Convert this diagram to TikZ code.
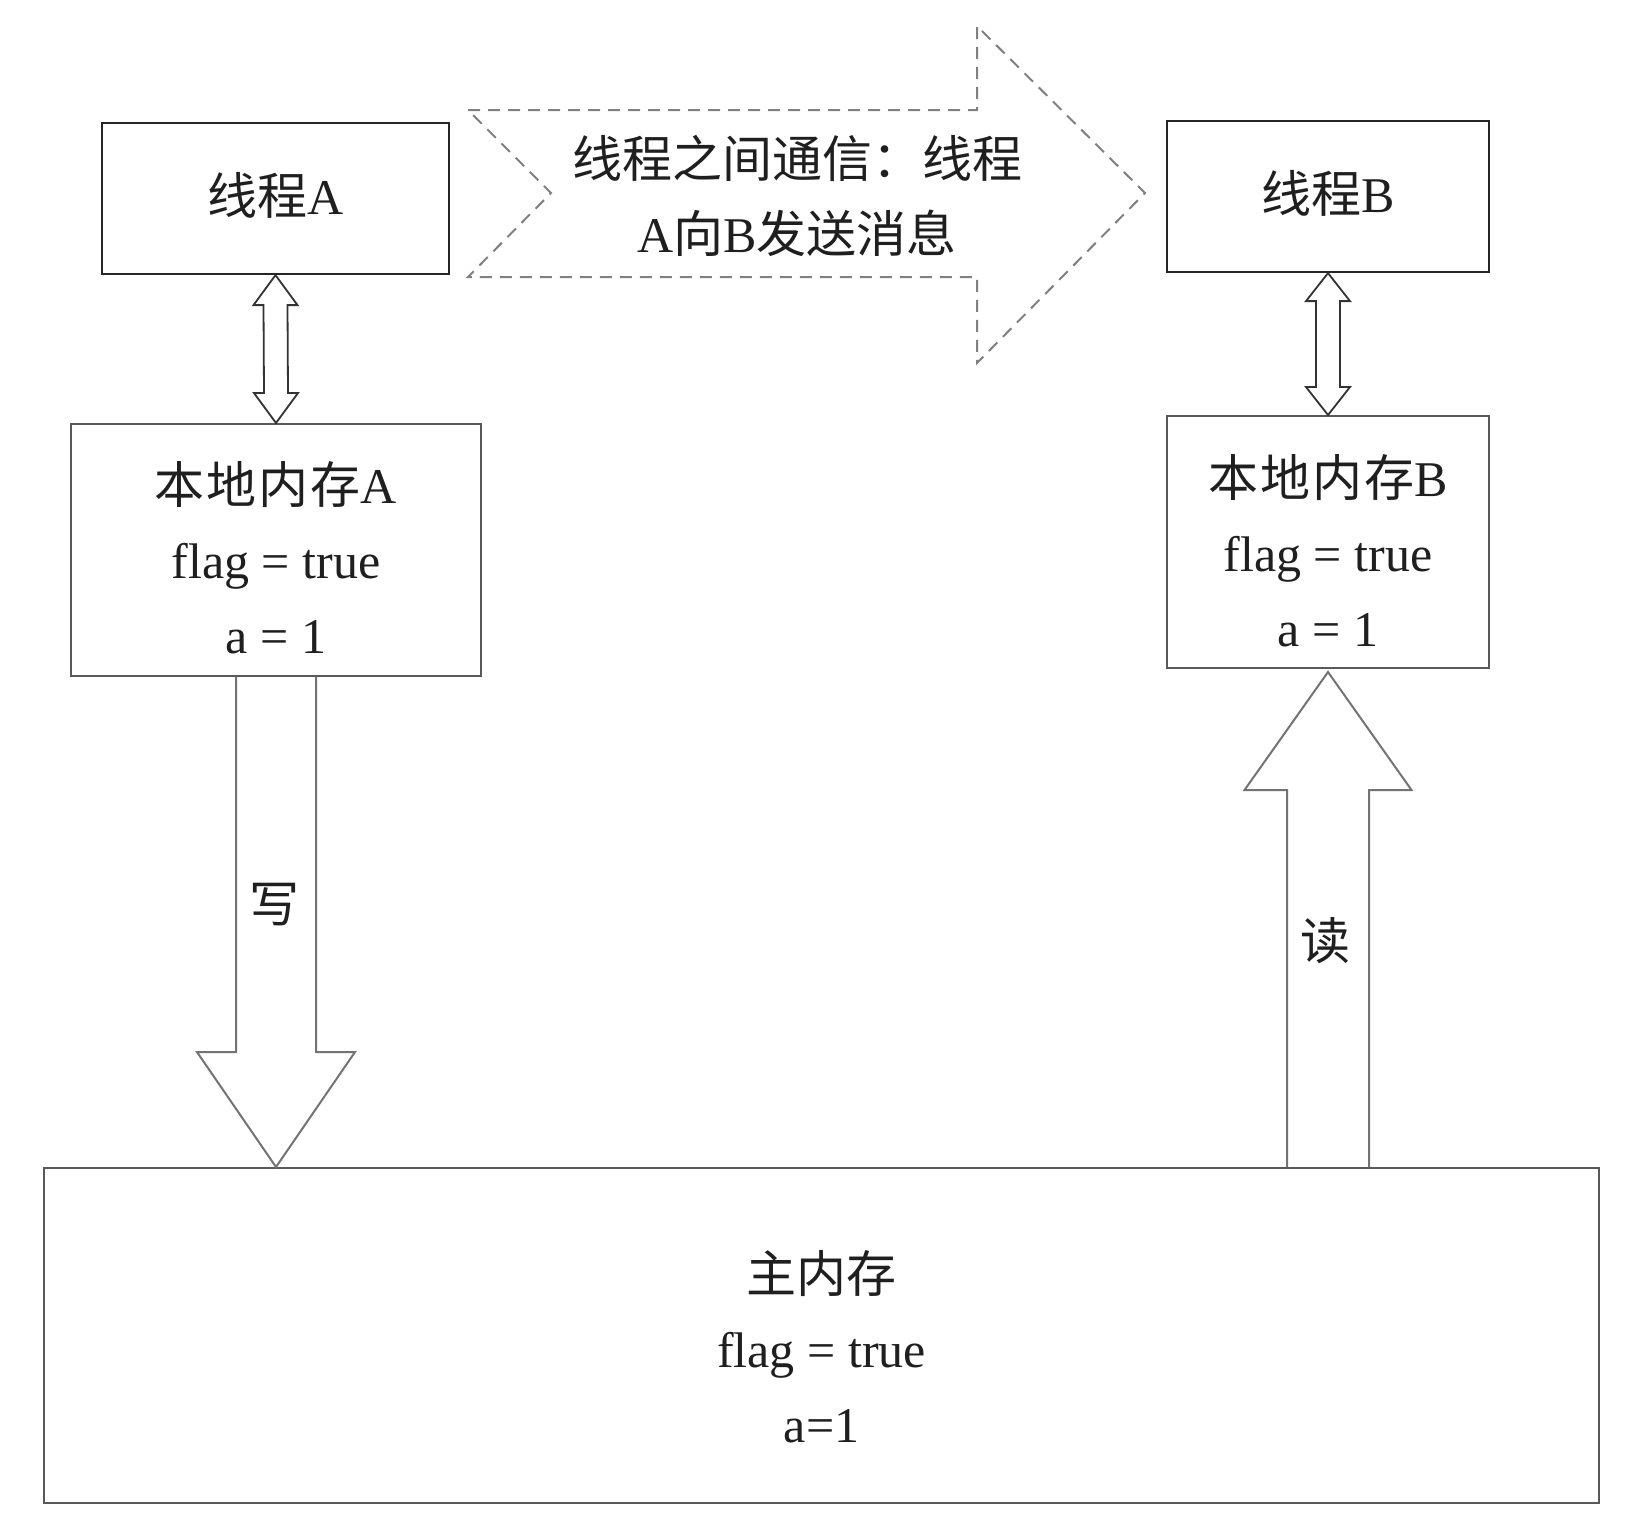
\documentclass[tikz,border=0pt]{standalone}
\usepackage{fontspec}
\setmainfont{Liberation Serif}
\newfontfamily\cjk{Noto Sans CJK SC}
\usetikzlibrary{calc}
\begin{document}
\begin{tikzpicture}[x=1pt,y=-1pt,
  thbox/.style={draw=black!85, line width=2.2pt, inner sep=0pt},
  membox/.style={draw=black!65, line width=2pt, inner sep=0pt},
  txt/.style={font=\fontsize{50}{75}\selectfont, align=center, text=black!88, inner sep=0pt},
  dbl/.style={draw=black!80, line width=1.8pt, line join=miter},
  blk/.style={draw=black!55, line width=2pt, line join=miter},
  dsh/.style={draw=black!50, line width=2pt, dash pattern=on 12pt off 8pt}]
\fill[white] (0,0) rectangle (1639,1534);
\useasboundingbox (0,0) rectangle (1639,1534);

% boxes
\node[thbox, minimum width=347pt, minimum height=151pt] (tA) at (275.5,198.5) {};
\node[thbox, minimum width=322pt, minimum height=151pt] (tB) at (1328,196.5) {};
\node[membox, minimum width=410pt, minimum height=252pt] (lmA) at (276,550) {};
\node[membox, minimum width=322pt, minimum height=252pt] (lmB) at (1328,542) {};
\node[membox, minimum width=1555pt, minimum height=335pt] (mm) at (821.5,1335.5) {};

% texts
\node[txt] (tAt) at ($(tA.center)+(0,-3)$) {{\cjk 线程}A};
\node[txt] (tBt) at ($(tB.center)+(0,-3)$) {{\cjk 线程}B};
\node[txt] (lmAt) at ($(lmA.center)+(0,8)$) {{\cjk 本\kern2pt 地\kern2pt 内\kern2pt 存}A\\flag = true\\a = 1};
\node[txt] (lmBt) at ($(lmB.center)+(0,9)$) {{\cjk 本\kern2pt 地\kern2pt 内\kern2pt 存}B\\flag = true\\a = 1};
\node[txt] (mmt) at ($(mm.center)+(0,11)$) {{\cjk 主内存}\\flag = true\\a=1};

% dashed message arrow
\coordinate (d1) at (468,110);
\coordinate (d2) at (977,110);
\coordinate (d3) at (977,26);
\coordinate (d4) at (1145,193);
\coordinate (d5) at (977,363);
\coordinate (d6) at (977,277);
\coordinate (d7) at (468,277);
\coordinate (d8) at (551,193);
\draw[dsh] (d1) -- (d2) -- (d3) -- (d4) -- (d5) -- (d6) -- (d7) -- (d8) -- cycle;
\node[txt] (msg) at (797,196) {{\cjk 线程之间通信：线程}\\A{\cjk 向}B{\cjk 发送消息}};

% double arrow A
\draw[dbl] (tA.south) -- ($(tA.south)+(22,30)$) -- ($(tA.south)+(12,30)$)
  -- ($(lmA.north)+(12,-30)$) -- ($(lmA.north)+(22,-30)$) -- (lmA.north)
  -- ($(lmA.north)+(-22,-30)$) -- ($(lmA.north)+(-12,-30)$)
  -- ($(tA.south)+(-12,30)$) -- ($(tA.south)+(-22,30)$) -- cycle;

% double arrow B
\draw[dbl] (tB.south) -- ($(tB.south)+(22,28)$) -- ($(tB.south)+(12,28)$)
  -- ($(lmB.north)+(12,-28)$) -- ($(lmB.north)+(22,-28)$) -- (lmB.north)
  -- ($(lmB.north)+(-22,-28)$) -- ($(lmB.north)+(-12,-28)$)
  -- ($(tB.south)+(-12,28)$) -- ($(tB.south)+(-22,28)$) -- cycle;

% write arrow
\coordinate (wtip) at (lmA.south |- mm.north);
\draw[blk] ($(lmA.south)+(-40,0)$) -- ($(wtip)+(-40,-115)$) -- ($(wtip)+(-79,-115)$)
  -- (wtip) -- ($(wtip)+(79,-115)$) -- ($(wtip)+(40,-115)$) -- ($(lmA.south)+(40,0)$);
\node[txt] (wl) at (274,905) {\cjk 写};

% read arrow
\coordinate (rbase) at (lmB.south |- mm.north);
\coordinate (rtip) at ($(lmB.south)+(0,3)$);
\draw[blk] ($(rbase)+(-41,0)$) -- ($(rtip)+(-41,118)$) -- ($(rtip)+(-83.5,118)$)
  -- (rtip) -- ($(rtip)+(83.5,118)$) -- ($(rtip)+(41,118)$) -- ($(rbase)+(41,0)$);
\node[txt] (rl) at (1325,941) {\cjk 读};
\end{tikzpicture}
\end{document}
